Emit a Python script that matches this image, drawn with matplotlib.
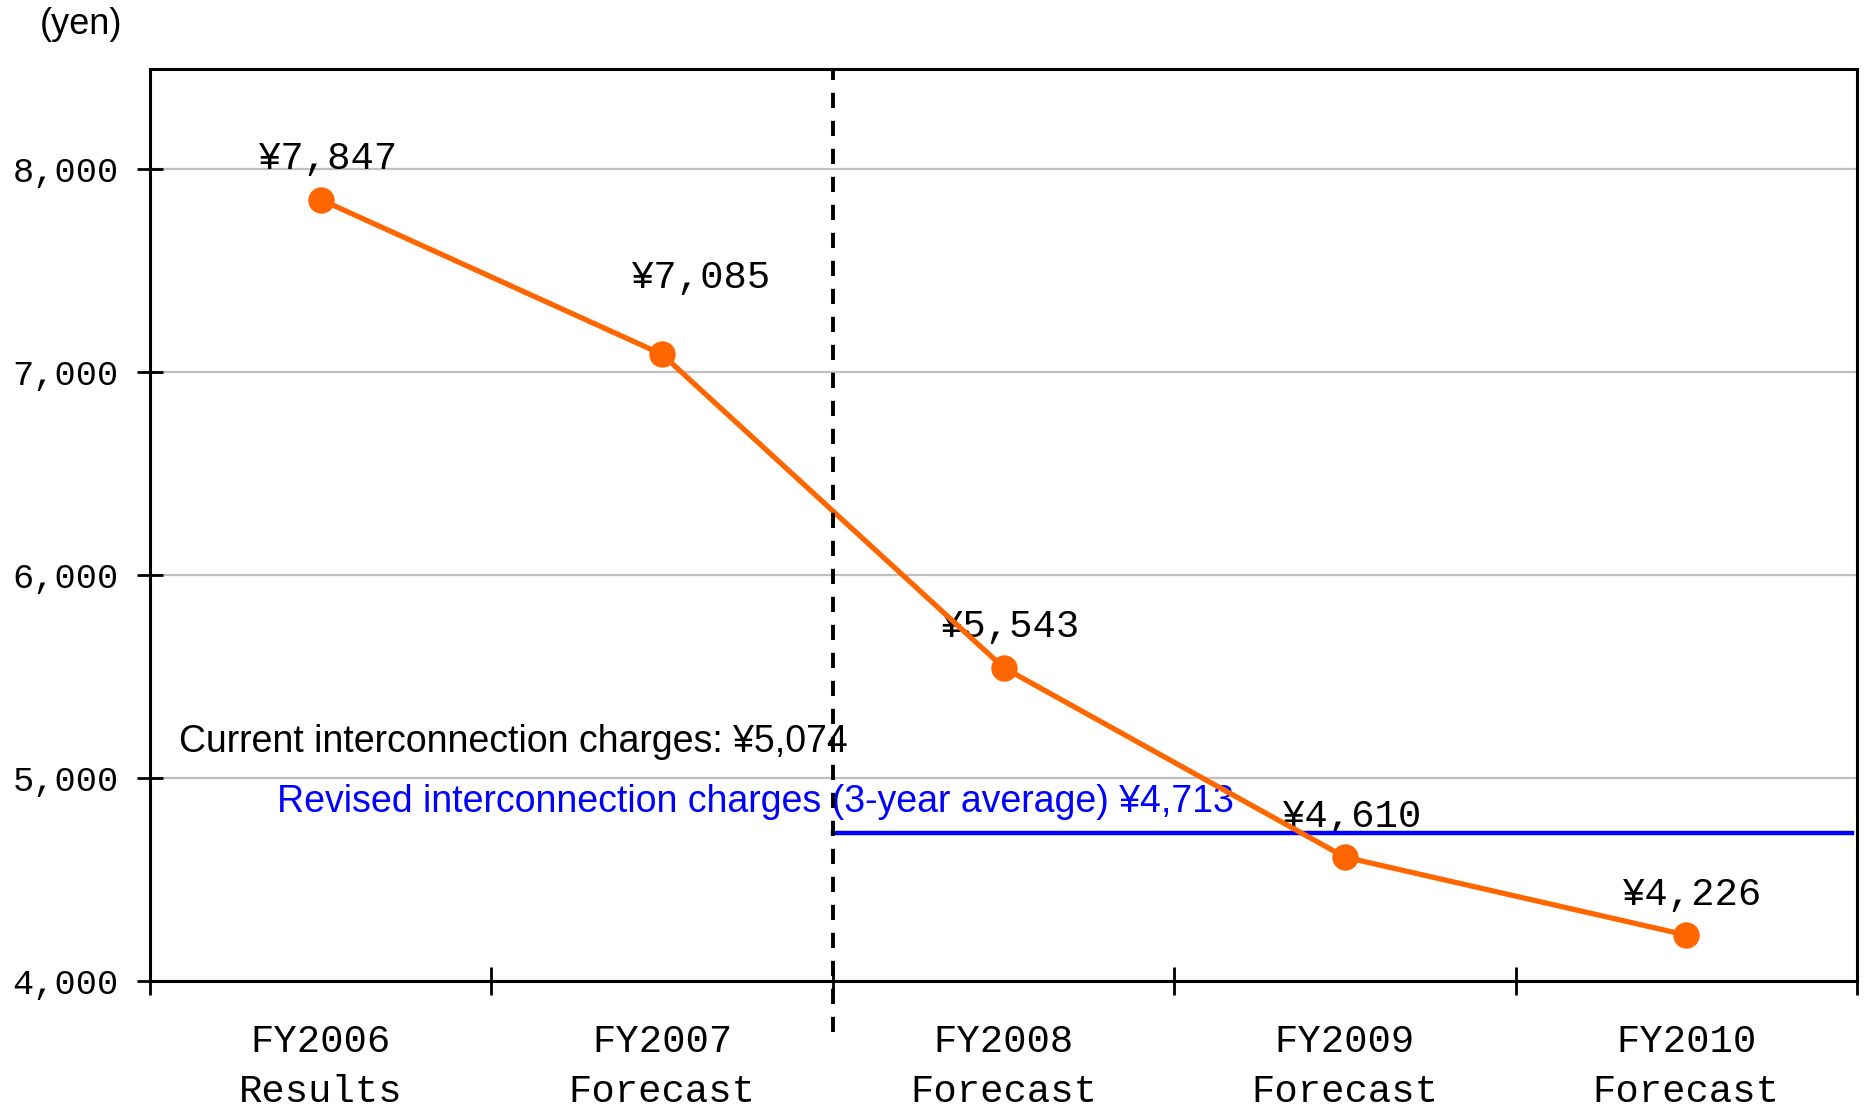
import matplotlib.pyplot as plt

# data
years = ["FY2006\nResults", "FY2007\nForecast", "FY2008\nForecast",
         "FY2009\nForecast", "FY2010\nForecast"]
charges = [7847, 7085, 5543, 4610, 4226]
value_labels = ["¥7,847", "¥7,085", "¥5,543", "¥4,610", "¥4,226"]
yticks = [4000, 5000, 6000, 7000, 8000]
ytick_labels = ["4,000", "5,000", "6,000", "7,000", "8,000"]
current_text = "Current interconnection charges: ¥5,074"
revised_text = "Revised interconnection charges (3-year average) ¥4,713"
revised_level = 4730  # blue line as drawn in the picture

mono = 'Liberation Mono'
sans = 'Liberation Sans'

fig = plt.figure(figsize=(18.66, 11.09), dpi=100)
ax = fig.add_axes([0.0804, 0.1154, 0.9148, 0.8224])

x = list(range(len(years)))
ax.plot(x, charges, color='#FF6600', lw=3.8, marker='o', ms=18, zorder=4)

# value labels
offsets = [(5, 22), (28, 48), (5, 22), (5, 22), (4, 22)]
for xi, yi, lab, off in zip(x, charges, value_labels, offsets):
    ax.annotate(lab, (xi, yi), xytext=off, textcoords='offset points',
                ha='center', va='baseline', family=mono, fontsize=28)

# forecast divider + revised charge line
ax.axvline(1.5, ymin=-0.056, ymax=1, color='black', lw=2.8,
           ls=(0, (3.9, 3.3)), clip_on=False, zorder=5)
ax.axhline(revised_level, xmin=0.4, xmax=0.997, color='#0000FF', lw=3.2, zorder=3)

ax.text(-0.415, 5126, current_text, family=sans, fontsize=27, va='baseline')
ax.text(-0.128, 4830, revised_text, family=sans, fontsize=27, va='baseline',
        color='#0000FF')

# axes
ax.set_xlim(-0.5, 4.5)
ax.set_ylim(4000, 8490)
ax.set_yticks(yticks, ytick_labels, family=mono, fontsize=25.5)
ax.tick_params(axis='y', direction='inout', length=19, width=2, pad=13)
ax.set_xticks(x, years, family=mono, fontsize=28, linespacing=1.5)
ax.tick_params(axis='x', which='major', length=0, pad=31)
ax.set_xticks([i - 0.5 for i in range(len(years) + 1)], minor=True)
ax.tick_params(axis='x', which='minor', direction='inout', length=20, width=2)
ax.grid(axis='y', color='#BFBFBF', lw=1.6)
ax.set_axisbelow(True)
for s in ax.spines.values():
    s.set_linewidth(2.2)

fig.text(40 / 1866, 1 - 24 / 1109, "(yen)", family=sans, fontsize=26, va='center')

fig.savefig('out.png', dpi=100)
